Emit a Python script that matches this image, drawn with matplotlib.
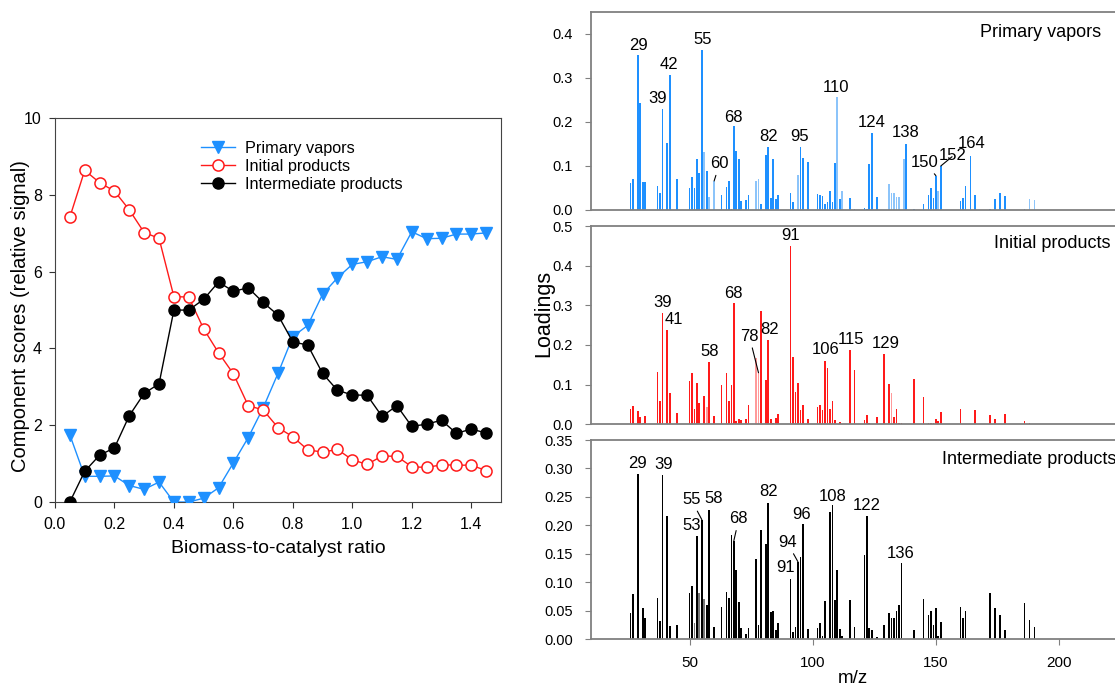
import matplotlib
matplotlib.use("Agg")
import matplotlib.pyplot as plt
import numpy as np

plt.rcParams['font.family'] = ['Liberation Sans', 'DejaVu Sans']

# component scores vs biomass-to-catalyst ratio
ratio = [0.05, 0.10, 0.15, 0.20, 0.25, 0.30, 0.35, 0.40, 0.45, 0.50,
         0.55, 0.60, 0.65, 0.70, 0.75, 0.80, 0.85, 0.90, 0.95, 1.00,
         1.05, 1.10, 1.15, 1.20, 1.25, 1.30, 1.35, 1.40, 1.45]
primary = [1.75, 0.67, 0.67, 0.68, 0.43, 0.33, 0.52, 0.0, 0.0, 0.10,
           0.37, 1.02, 1.68, 2.45, 3.35, 4.31, 4.60, 5.41, 5.84, 6.19,
           6.26, 6.39, 6.32, 7.04, 6.86, 6.87, 6.98, 6.98, 7.01]
initial = [7.42, 8.64, 8.32, 8.10, 7.61, 7.02, 6.87, 5.35, 5.34, 4.51,
           3.89, 3.34, 2.51, 2.40, 1.94, 1.70, 1.36, 1.30, 1.37, 1.10,
           0.98, 1.20, 1.19, 0.92, 0.90, 0.97, 0.96, 0.96, 0.82]
intermediate = [0.0, 0.80, 1.22, 1.41, 2.25, 2.83, 3.08, 5.00, 5.00, 5.28,
                5.73, 5.49, 5.58, 5.20, 4.87, 4.17, 4.09, 3.35, 2.91, 2.79,
                2.78, 2.23, 2.51, 1.97, 2.03, 2.13, 1.79, 1.90, 1.80]

# loadings: primary vapors
pv_mz = [26, 27, 29, 30, 31, 32, 37, 38, 39, 41, 42, 45, 50, 51, 52, 53, 54, 55,
         56, 57, 58, 60, 63, 65, 66, 67, 68, 69, 70, 71, 73, 74, 77, 78, 79, 81,
         82, 83, 84, 85, 86, 91, 92, 94, 95, 96, 98, 102, 103, 104, 105, 106,
         107, 108, 109, 110, 111, 112, 115, 117, 121, 122, 123, 124, 126, 131,
         132, 133, 134, 135, 137, 138, 141, 145, 147, 148, 149, 150, 151, 152,
         160, 161, 162, 164, 166, 172, 174, 176, 178, 186, 188, 190]
pv_load = [0.062, 0.070, 0.352, 0.243, 0.064, 0.064, 0.055, 0.039, 0.229, 0.153,
           0.306, 0.071, 0.051, 0.076, 0.051, 0.115, 0.084, 0.364, 0.132, 0.089,
           0.030, 0.066, 0.033, 0.052, 0.066, 0.002, 0.190, 0.135, 0.116, 0.020,
           0.023, 0.033, 0.066, 0.070, 0.014, 0.125, 0.143, 0.027, 0.116, 0.025,
           0.033, 0.039, 0.019, 0.080, 0.143, 0.119, 0.110, 0.037, 0.033, 0.032,
           0.014, 0.017, 0.043, 0.018, 0.107, 0.256, 0.026, 0.042, 0.028, 0.003,
           0.005, 0.003, 0.104, 0.175, 0.030, 0.058, 0.038, 0.038, 0.030, 0.030,
           0.116, 0.151, 0.002, 0.014, 0.034, 0.051, 0.027, 0.078, 0.043, 0.100,
           0.020, 0.027, 0.055, 0.123, 0.035, 0.002, 0.026, 0.039, 0.031, 0.002,
           0.025, 0.023]
pv_light = [56, 58, 60, 77, 78, 94, 110, 112, 131, 132, 133, 134, 135, 137, 151, 188, 190]

# loadings: initial products
ip_mz = [26, 27, 29, 30, 31, 32, 37, 38, 39, 41, 42, 45, 50, 51, 52, 53, 54, 56,
         57, 58, 60, 63, 65, 66, 67, 68, 69, 70, 71, 73, 74, 77, 78, 79, 81, 82,
         83, 84, 85, 86, 91, 92, 93, 94, 95, 96, 98, 102, 103, 104, 105, 106,
         107, 108, 109, 111, 115, 117, 121, 122, 123, 126, 129, 131, 132, 133,
         134, 135, 136, 141, 145, 147, 148, 149, 150, 151, 152, 160, 166, 172,
         174, 178, 186, 188]
ip_load = [0.038, 0.047, 0.033, 0.018, 0.003, 0.020, 0.131, 0.059, 0.281, 0.238,
           0.080, 0.029, 0.110, 0.130, 0.039, 0.104, 0.054, 0.072, 0.044, 0.158,
           0.020, 0.099, 0.129, 0.058, 0.100, 0.306, 0.008, 0.014, 0.011, 0.013,
           0.048, 0.168, 0.130, 0.286, 0.111, 0.213, 0.014, 0.004, 0.016, 0.027,
           0.450, 0.170, 0.082, 0.104, 0.035, 0.049, 0.013, 0.043, 0.048, 0.037,
           0.159, 0.143, 0.038, 0.058, 0.010, 0.007, 0.187, 0.138, 0.010, 0.024,
           0.004, 0.018, 0.176, 0.102, 0.078, 0.019, 0.038, 0.004, 0.003, 0.113,
           0.069, 0.004, 0.004, 0.004, 0.013, 0.009, 0.032, 0.038, 0.035, 0.024,
           0.013, 0.026, 0.008, 0.004]
ip_light = [57, 77, 78, 132]

# loadings: intermediate products
im_mz = [26, 27, 29, 31, 32, 37, 38, 39, 41, 42, 45, 50, 51, 52, 53, 54, 55, 56,
         57, 58, 60, 63, 65, 66, 67, 68, 69, 70, 71, 73, 74, 77, 78, 79, 81, 82,
         83, 84, 85, 86, 91, 92, 93, 94, 95, 96, 98, 102, 103, 104, 105, 107,
         108, 109, 110, 111, 112, 115, 117, 121, 122, 123, 124, 126, 129, 131,
         132, 133, 134, 135, 136, 141, 145, 147, 148, 149, 150, 151, 152, 160,
         161, 162, 172, 174, 176, 178, 186, 188, 190]
im_load = [0.045, 0.080, 0.291, 0.054, 0.037, 0.073, 0.032, 0.288, 0.216, 0.023,
           0.025, 0.081, 0.094, 0.028, 0.181, 0.081, 0.210, 0.070, 0.059, 0.227,
           0.022, 0.057, 0.083, 0.073, 0.183, 0.173, 0.121, 0.065, 0.020, 0.008,
           0.020, 0.140, 0.025, 0.192, 0.167, 0.240, 0.047, 0.050, 0.016, 0.029,
           0.105, 0.013, 0.022, 0.136, 0.145, 0.202, 0.018, 0.019, 0.028, 0.006,
           0.067, 0.224, 0.235, 0.069, 0.122, 0.018, 0.005, 0.068, 0.021, 0.147,
           0.216, 0.019, 0.016, 0.004, 0.025, 0.046, 0.037, 0.037, 0.050, 0.060,
           0.133, 0.015, 0.070, 0.042, 0.049, 0.025, 0.054, 0.005, 0.030, 0.057,
           0.037, 0.049, 0.081, 0.055, 0.042, 0.016, 0.063, 0.033, 0.022]
im_light = [52, 54, 56]

# peak labels: (text, text x, text y, bar m/z or None for plain labels)
pv_labels = [("29", 29.4, 0.357, None), ("39", 37.1, 0.236, None),
             ("42", 41.7, 0.314, None), ("55", 55.4, 0.370, None),
             ("60", 62.2, 0.088, 60), ("68", 67.7, 0.193, None),
             ("82", 82.2, 0.151, None), ("95", 94.8, 0.150, None),
             ("110", 109.5, 0.261, None), ("124", 123.8, 0.181, None),
             ("138", 137.9, 0.159, None), ("150", 145.5, 0.091, 150),
             ("152", 157.0, 0.106, 152), ("164", 164.5, 0.135, None)]
ip_labels = [("39", 38.9, 0.287, None), ("41", 43.8, 0.245, None),
             ("58", 58.2, 0.164, None), ("68", 67.7, 0.311, None),
             ("78", 74.3, 0.203, 78), ("82", 82.6, 0.219, None),
             ("91", 90.9, 0.456, None), ("106", 105.2, 0.169, None),
             ("115", 115.7, 0.196, None), ("129", 129.7, 0.185, None)]
im_labels = [("29", 28.9, 0.296, None), ("39", 39.3, 0.294, None),
             ("55", 50.7, 0.232, 55), ("58", 59.9, 0.234, None),
             ("53", 50.7, 0.187, None), ("68", 70.0, 0.198, 68),
             ("82", 82.1, 0.246, None), ("94", 89.6, 0.157, 94),
             ("91", 89.0, 0.112, None), ("96", 95.5, 0.205, None),
             ("108", 107.9, 0.238, None), ("122", 121.8, 0.221, None),
             ("136", 135.7, 0.138, None)]

blue = "#1e90ff"
red = "#ff1a1a"

fig = plt.figure(figsize=(11.15, 6.88), dpi=100)

# ---- left: component scores ----
ax = fig.add_axes([0.0493, 0.2703, 0.40, 0.558])
ax.plot(ratio, primary, color=blue, lw=1, marker="v", ms=8,
        mfc=blue, mec=blue, label="Primary vapors", zorder=3)
ax.plot(ratio, initial, color=red, lw=1, marker="o", ms=8,
        mfc="white", mec=red, mew=1.1, label="Initial products", zorder=4)
ax.plot(ratio, intermediate, color="black", lw=1, marker="o", ms=8,
        mfc="black", mec="black", label="Intermediate products", zorder=5)
ax.set_xlim(0, 1.5)
ax.set_ylim(0, 10)
ax.set_xticks(np.arange(0, 1.41, 0.2))
ax.set_xticklabels([f"{v:.1f}" for v in np.arange(0, 1.41, 0.2)])
ax.set_yticks(range(0, 11, 2))
ax.tick_params(direction="out", length=4.5, labelsize=11.5, colors="#333333", labelcolor="black")
ax.tick_params(axis="x", pad=6)
ax.tick_params(axis="y", pad=5)
for s in ax.spines.values():
    s.set_color("#444444")
ax.set_xlabel("Biomass-to-catalyst ratio", fontsize=14, labelpad=6)
ax.set_ylabel("Component scores (relative signal)", fontsize=14.5)
ax.yaxis.set_label_coords(-0.057, 0.485)
ax.legend(loc="upper left", bbox_to_anchor=(0.31, 0.962), frameon=False,
          fontsize=11.7, handlelength=2.1, handletextpad=0.6,
          labelspacing=0.19, borderpad=0)

# ---- right: loadings spectra ----
panels = [
    ([0.530, 0.6948, 0.470, 0.2878], pv_mz, pv_load, pv_light, blue, "#8cc4fa",
     0.45, [0, 0.1, 0.2, 0.3, 0.4], "{:.1f}", pv_labels, "Primary vapors", 168.1, 0.404),
    ([0.530, 0.3833, 0.470, 0.2882], ip_mz, ip_load, ip_light, red, "#ff9a9a",
     0.5, [0, 0.1, 0.2, 0.3, 0.4, 0.5], "{:.1f}", ip_labels, "Initial products", 173.4, 0.455),
    ([0.530, 0.0712, 0.470, 0.2892], im_mz, im_load, im_light, "black", "#777777",
     0.35, [0, 0.05, 0.10, 0.15, 0.20, 0.25, 0.30, 0.35], "{:.2f}", im_labels,
     "Intermediate products", 152.6, 0.316),
]

axes = []
for (pos, mz, load, light, col, lcol, ymax, yt, fmt, labels, title, tx, ty) in panels:
    a = fig.add_axes(pos)
    colors = [lcol if m in light else col for m in mz]
    a.bar(mz, load, width=0.7, color=colors, linewidth=0)
    a.set_xlim(10, 222.7)
    a.set_ylim(0, ymax)
    a.set_yticks(yt)
    a.set_yticklabels([fmt.format(v) for v in yt])
    a.tick_params(axis="y", direction="out", length=4, pad=9, labelsize=10.5, color="#808080")
    a.tick_params(axis="x", direction="out", length=4, pad=8, labelsize=11, color="#808080")
    for side in ["left", "top", "bottom"]:
        a.spines[side].set_color("#808080")
        a.spines[side].set_linewidth(1.3)
    a.spines["right"].set_visible(False)
    a.text(tx, ty, title, fontsize=13, ha="left", va="center")
    for txt, x, y, bar_mz in labels:
        if bar_mz is None:
            a.text(x, y, txt, fontsize=12, ha="center", va="bottom")
        else:
            h = load[mz.index(bar_mz)]
            a.annotate(txt, xy=(bar_mz, h), xytext=(x, y), fontsize=12,
                       ha="center", va="bottom",
                       arrowprops=dict(arrowstyle="-", lw=0.8, color="black",
                                       shrinkA=1, shrinkB=0))
    axes.append(a)

axes[0].set_xticks([])
axes[1].set_xticks([])
axes[2].set_xticks([50, 100, 150, 200])
axes[2].set_xlabel("m/z", fontsize=13.5, labelpad=0)
axes[1].set_ylabel("Loadings", fontsize=15.5)
axes[1].yaxis.set_label_coords(-0.07, 0.56)

fig.savefig("out.png", dpi=100)
